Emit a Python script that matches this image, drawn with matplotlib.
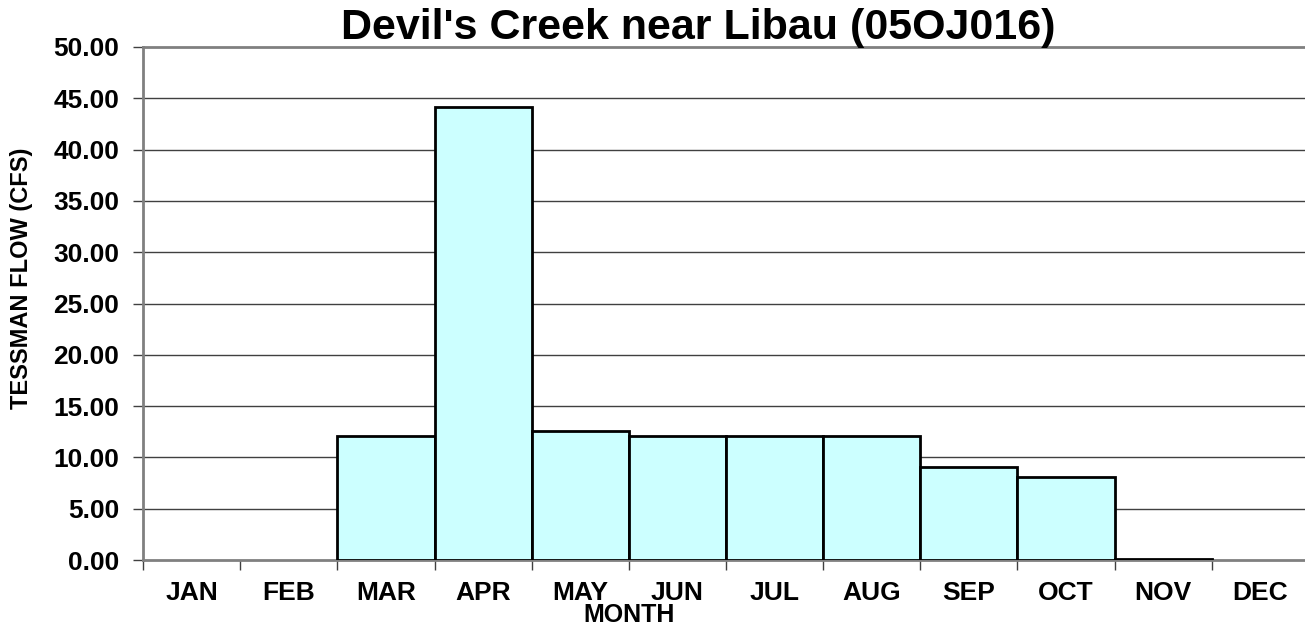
import matplotlib
matplotlib.use("Agg")
import matplotlib.pyplot as plt
import numpy as np

months = ["JAN", "FEB", "MAR", "APR", "MAY", "JUN", "JUL", "AUG", "SEP", "OCT", "NOV", "DEC"]
flow = [0.0, 0.0, 12.1, 44.2, 12.6, 12.1, 12.1, 12.1, 9.1, 8.1, 0.1, 0.0]
yticks = [0, 5, 10, 15, 20, 25, 30, 35, 40, 45, 50]
title = "Devil's Creek near Libau (05OJ016)"
xlabel = "MONTH"
ylabel = "TESSMAN FLOW (CFS)"

plt.rcParams['font.family'] = ['Liberation Sans', 'DejaVu Sans']
plt.rcParams['font.weight'] = 'bold'

fig = plt.figure(figsize=(13.05, 6.26), dpi=100)
W, H = 1305, 626
ax = fig.add_axes([143 / W, 1 - 560 / H, (1309 - 143) / W, (560 - 47) / H])

grid_c = '#808080'
ax.set_ylim(0, 50)
ax.set_xlim(0, 12)
ax.set_yticks(yticks)
ax.set_yticklabels([f"{v:.2f}" for v in yticks], fontsize=19, fontweight='bold')
for v in yticks[1:-1]:
    ax.axhline(v, color='#404040', lw=1.0, zorder=1)

x = np.arange(len(months))
vals = np.array(flow)
mask = vals > 0
ax.bar(x[mask], vals[mask], width=1.0, align='edge', color='#CCFFFF',
       edgecolor='black', linewidth=2.0, zorder=3)

ax.set_xticks(np.arange(13))
ax.set_xticklabels([])
ax.set_xticks(x + 0.5, minor=True)
ax.set_xticklabels(months, minor=True, fontsize=19, fontweight='bold')
ax.tick_params(axis='x', which='minor', length=0, pad=15)
ax.tick_params(axis='x', which='major', length=7, width=1.0, color='#404040')
ax.tick_params(axis='y', length=7, width=1.0, color='#404040', pad=10)

for s in ['left', 'bottom', 'top']:
    ax.spines[s].set_color(grid_c)
    ax.spines[s].set_linewidth(2.0)
ax.spines['right'].set_visible(False)

fig.text(698 / W, 1 - 28 / H, title, ha='center', va='center', fontsize=31, fontweight='bold')
fig.text(629 / W, 1 - 615 / H, xlabel, ha='center', va='center', fontsize=18, fontweight='bold')
fig.text(22 / W, 1 - 278 / H, ylabel, ha='center', va='center', rotation=90, fontsize=17, fontweight='bold')

fig.savefig("out.png", dpi=100)
